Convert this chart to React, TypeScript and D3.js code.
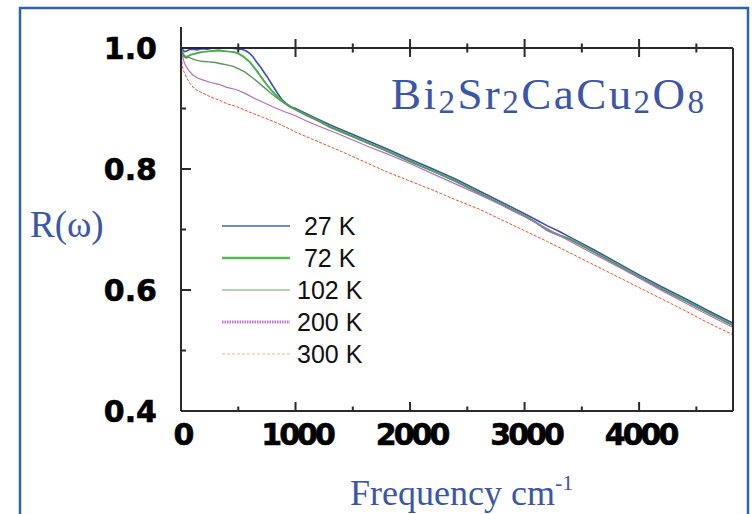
import * as d3 from 'd3';

const width = 752;
const height = 514;
// plot box: x 181..733, y 48..411
const margin = { top: 48, right: 19, bottom: 103, left: 181 };

const xMax = 4820;
const xMajor = [0, 1000, 2000, 3000, 4000];
const xMinor = [500, 1500, 2500, 3500, 4500];
const yMajor = [0.4, 0.6, 0.8, 1.0];
const yMinor = [0.5, 0.7, 0.9];

const seriesNames = ['27 K', '72 K', '102 K', '200 K', '300 K'];

// [frequency cm-1, R]
const r27: [number, number][] = [
  [0, 1.0], [15, 0.997], [30, 0.994], [50, 0.995], [70, 0.997], [100, 0.998], [140, 0.997],
  [180, 0.999], [230, 0.998], [280, 1.0], [330, 0.999], [380, 1.0], [430, 1.0], [480, 0.999],
  [530, 0.998], [570, 0.995], [600, 0.991], [630, 0.985], [660, 0.977], [700, 0.967],
  [750, 0.953], [800, 0.938], [840, 0.926], [880, 0.915], [920, 0.908], [960, 0.903],
  [1000, 0.9], [1100, 0.891], [1200, 0.882], [1300, 0.873], [1400, 0.865], [1500, 0.857],
  [1650, 0.845], [1800, 0.833], [2000, 0.816], [2200, 0.8], [2400, 0.783], [2600, 0.764],
  [2800, 0.745], [3000, 0.726], [3100, 0.716], [3200, 0.706], [3300, 0.697], [3400, 0.687],
  [3500, 0.677], [3600, 0.667], [3800, 0.646], [4000, 0.625], [4200, 0.605], [4400, 0.586],
  [4600, 0.566], [4820, 0.545],
];
const r72: [number, number][] = [
  [0, 1.0], [10, 0.994], [25, 0.988], [45, 0.985], [65, 0.987], [90, 0.989], [130, 0.991],
  [170, 0.993], [220, 0.994], [270, 0.995], [320, 0.996], [370, 0.995], [420, 0.994],
  [470, 0.993], [510, 0.99], [550, 0.985], [600, 0.977], [650, 0.965], [700, 0.952],
  [750, 0.939], [800, 0.928], [850, 0.918], [900, 0.91], [950, 0.903], [1000, 0.898],
  [1100, 0.889], [1200, 0.88], [1300, 0.87], [1400, 0.862], [1500, 0.854], [1650, 0.842],
  [1800, 0.83], [2000, 0.813], [2200, 0.797], [2400, 0.78], [2600, 0.761], [2800, 0.742],
  [3000, 0.723], [3100, 0.712], [3200, 0.699], [3300, 0.691], [3400, 0.684], [3500, 0.674],
  [3600, 0.664], [3800, 0.643], [4000, 0.622], [4200, 0.602], [4400, 0.583], [4600, 0.563],
  [4820, 0.542],
];
const r102: [number, number][] = [
  [0, 1.0], [10, 0.992], [25, 0.986], [45, 0.983], [65, 0.985], [90, 0.983], [130, 0.98],
  [180, 0.978], [240, 0.977], [300, 0.976], [350, 0.974], [400, 0.972], [450, 0.97],
  [500, 0.966], [560, 0.96], [630, 0.95], [700, 0.939], [780, 0.926], [860, 0.914],
  [930, 0.905], [1000, 0.898], [1100, 0.888], [1200, 0.879], [1300, 0.869], [1400, 0.861],
  [1500, 0.853], [1650, 0.841], [1800, 0.829], [2000, 0.812], [2200, 0.796], [2400, 0.779],
  [2600, 0.76], [2800, 0.741], [3000, 0.722], [3100, 0.711], [3200, 0.698], [3300, 0.69],
  [3400, 0.683], [3500, 0.673], [3600, 0.663], [3800, 0.642], [4000, 0.621], [4200, 0.601],
  [4400, 0.582], [4600, 0.562], [4820, 0.541],
];
const r200: [number, number][] = [
  [0, 1.0], [8, 0.99], [18, 0.983], [30, 0.975], [47, 0.969], [70, 0.962], [105, 0.955],
  [150, 0.95], [195, 0.947], [260, 0.943], [330, 0.94], [400, 0.935], [487, 0.931],
  [560, 0.925], [640, 0.917], [720, 0.91], [800, 0.903], [900, 0.895], [1000, 0.888],
  [1100, 0.879], [1200, 0.871], [1360, 0.859], [1500, 0.848], [1650, 0.836], [1800, 0.825],
  [2000, 0.809], [2200, 0.792], [2400, 0.775], [2600, 0.758], [2800, 0.74], [3000, 0.721],
  [3200, 0.701], [3400, 0.68], [3600, 0.66], [3800, 0.64], [4000, 0.62], [4200, 0.599],
  [4400, 0.579], [4600, 0.559], [4820, 0.538],
];
const r300: [number, number][] = [
  [0, 1.0], [3, 0.99], [6, 0.98], [12, 0.97], [20, 0.963], [35, 0.957], [55, 0.949],
  [76, 0.942], [110, 0.934], [150, 0.929], [195, 0.925], [260, 0.919], [330, 0.914],
  [400, 0.908], [487, 0.903], [560, 0.897], [640, 0.891], [720, 0.885], [777, 0.881],
  [850, 0.875], [950, 0.866], [1000, 0.861], [1200, 0.845], [1400, 0.829], [1600, 0.812],
  [1800, 0.795], [2000, 0.78], [2200, 0.765], [2400, 0.749], [2600, 0.734], [2800, 0.716],
  [3000, 0.698], [3200, 0.68], [3400, 0.661], [3600, 0.642], [3800, 0.623], [4000, 0.604],
  [4200, 0.585], [4400, 0.566], [4600, 0.546], [4820, 0.526],
];

const seriesData = [r27, r72, r102, r200, r300];

const plotStyles = [
  { stroke: '#3a4fb2', width: 1.6, dash: '' },
  { stroke: '#4cb04c', width: 2, dash: '' },
  { stroke: '#5a955a', width: 1.4, dash: '' },
  { stroke: '#b46cc9', width: 1.2, dash: '' },
  { stroke: '#ef4a2a', width: 1, dash: '3,1.5' },
];
const legendStyles = [
  { stroke: '#4a5fb4', width: 1.6, dash: '' },
  { stroke: '#55b855', width: 2.6, dash: '' },
  { stroke: '#96c496', width: 1.6, dash: '' },
  { stroke: '#c272d4', width: 3, dash: '1.5,1' },
  { stroke: '#f6b39c', width: 1.2, dash: '3,2' },
];

const blue = '#3b56a8';
const axisColor = '#2a2a2a';

export default function App() {
  const x = d3.scaleLinear().domain([0, xMax]).range([margin.left, width - margin.right]);
  const y = d3.scaleLinear().domain([0.4, 1.0]).range([height - margin.bottom, margin.top]);
  const line = d3.line<[number, number]>().x(d => x(d[0])).y(d => y(d[1]));

  const x0 = x(0), x1 = x(xMax), yTop = y(1.0), yBot = y(0.4);
  const legendY = d3.scalePoint<string>().domain(seriesNames).range([226, 354]);

  return (
    <svg width={width} height={height} style={{ position: 'absolute', left: 0, top: 0, background: '#fff' }}>
      <rect x={20} y={8} width={728} height={530} fill="#fff" stroke="#2e63aa" strokeWidth={2.5} />

      {seriesData.map((d, i) => (
        <path key={i} d={line(d) || ''} fill="none" stroke={plotStyles[i].stroke}
          strokeWidth={plotStyles[i].width} strokeDasharray={plotStyles[i].dash || undefined} />
      ))}

      {/* axes frame */}
      <g stroke={axisColor} strokeWidth={2} fill="none">
        <line x1={x0} x2={x0} y1={27} y2={yBot} />
        <line x1={x0} x2={x1} y1={yTop} y2={yTop} />
        <line x1={x1} x2={x1} y1={yTop} y2={yBot} />
        <line x1={x0} x2={x1} y1={yBot} y2={yBot} />
        {xMajor.filter(v => v > 0).map(v => (
          <g key={v}>
            <line x1={x(v)} x2={x(v)} y1={yTop - 9} y2={yTop + 9} />
            <line x1={x(v)} x2={x(v)} y1={yBot - 9} y2={yBot} />
          </g>
        ))}
        {xMinor.map(v => (
          <g key={v}>
            <line x1={x(v)} x2={x(v)} y1={yTop - 4.5} y2={yTop + 4.5} />
            <line x1={x(v)} x2={x(v)} y1={yBot - 4.5} y2={yBot} />
          </g>
        ))}
        {yMajor.filter(v => v > 0.4 && v < 1).map(v => (
          <line key={v} x1={x0} x2={x0 + 10} y1={y(v)} y2={y(v)} />
        ))}
        {yMinor.map(v => (
          <line key={v} x1={x0} x2={x0 + 5} y1={y(v)} y2={y(v)} />
        ))}
      </g>

      <g fontFamily="DejaVu Sans" fontWeight="bold" fontSize={30} fill="#000" stroke="#000" strokeWidth={0.6}>
        {yMajor.map(v => (
          <text key={v} x={157} y={y(v)} dy="0.37em" textAnchor="end">{v.toFixed(1)}</text>
        ))}
        {xMajor.map(v => (
          <text key={v} x={x(v) + 1.5} y={445} textAnchor="middle" letterSpacing={-3}>{v}</text>
        ))}
      </g>

      <g>
        {seriesNames.map((name, i) => (
          <g key={name}>
            <line x1={222} x2={290} y1={legendY(name)} y2={legendY(name)} stroke={legendStyles[i].stroke}
              strokeWidth={legendStyles[i].width} strokeDasharray={legendStyles[i].dash || undefined} />
            <text x={297} y={(legendY(name) || 0) + 9} fontFamily="Liberation Sans, Arial" fontSize={25}
              fill="#111" style={{ whiteSpace: 'pre' }}>{name.length < 5 ? ' ' + name : name}</text>
          </g>
        ))}
      </g>

      <g fontFamily="Liberation Serif, Times New Roman" fill={blue}>
        <text x={30} y={237} fontSize={37}>R(ω)</text>
        <text x={391} y={109} fontSize={45} textLength={313} lengthAdjust="spacing">
          Bi<tspan fontSize={33} dy={4}>2</tspan><tspan dy={-4}>Sr</tspan><tspan fontSize={33} dy={4}>2</tspan>
          <tspan dy={-4}>CaCu</tspan><tspan fontSize={33} dy={4}>2</tspan><tspan dy={-4}>O</tspan>
          <tspan fontSize={33} dy={4}>8</tspan>
        </text>
        <text x={350} y={505} fontSize={36}>
          Frequency cm<tspan fontSize={22} dy={-15}>-1</tspan>
        </text>
      </g>
    </svg>
  );
}
